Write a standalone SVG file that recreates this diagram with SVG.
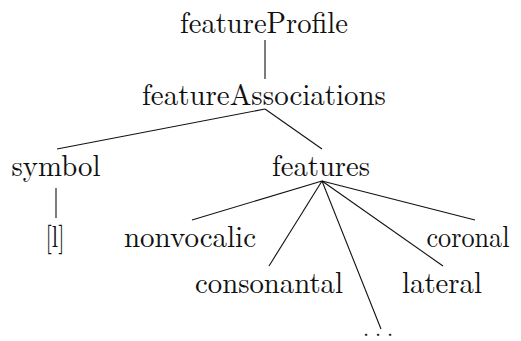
<svg xmlns="http://www.w3.org/2000/svg" width="521" height="341" viewBox="0 0 521 341">
<style>
text{font-family:"Latin Modern Roman","Liberation Serif","DejaVu Serif",serif;font-size:30px;fill:#111;text-anchor:middle}
.e line{stroke:#111;stroke-width:1.1;fill:none}
</style>
<rect width="521" height="341" fill="#fff"/>
<g class="e" id="connectors">
<line x1="265" y1="40" x2="265" y2="79"/>
<line x1="265" y1="109" x2="57" y2="149"/>
<line x1="265" y1="109" x2="322" y2="149"/>
<line x1="56" y1="188" x2="56" y2="218"/>
<line x1="322" y1="181" x2="192" y2="220"/>
<line x1="322" y1="181" x2="269" y2="266"/>
<line x1="322" y1="181" x2="381" y2="329"/>
<line x1="322" y1="181" x2="443" y2="266"/>
<line x1="322" y1="181" x2="475" y2="220"/>
</g>
<g id="featureProfile"><text x="264" y="33" textLength="168" lengthAdjust="spacingAndGlyphs">featureProfile</text></g>
<g id="featureAssociations"><text x="264" y="105" textLength="244" lengthAdjust="spacingAndGlyphs">featureAssociations</text></g>
<g id="symbol"><text x="56" y="176" textLength="89" lengthAdjust="spacingAndGlyphs">symbol</text></g>
<g id="features"><text x="321" y="176" textLength="98" lengthAdjust="spacingAndGlyphs">features</text></g>
<g id="l"><text x="55" y="247" textLength="19" lengthAdjust="spacingAndGlyphs">[l]</text></g>
<g id="nonvocalic"><text x="190" y="247" textLength="132" lengthAdjust="spacingAndGlyphs">nonvocalic</text></g>
<g id="coronal"><text x="468" y="247" textLength="83" lengthAdjust="spacingAndGlyphs">coronal</text></g>
<g id="consonantal"><text x="269" y="293" textLength="148" lengthAdjust="spacingAndGlyphs">consonantal</text></g>
<g id="lateral"><text x="442" y="293" textLength="80" lengthAdjust="spacingAndGlyphs">lateral</text></g>
<g id="dots"><text x="378" y="336" style="font-size:22px" textLength="30" lengthAdjust="spacing">. . .</text></g>
</svg>
